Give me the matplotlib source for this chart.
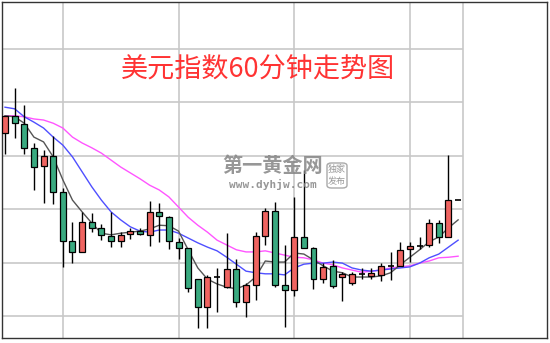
import matplotlib.pyplot as plt
from matplotlib.patches import FancyBboxPatch

# ==================================================
# Data: 60-minute candles (open, high, low, close)
# ==================================================
opens = [97.243, 97.275, 97.260, 97.215, 97.181, 97.200, 97.132, 97.040, 97.020, 97.076,
         97.065, 97.050, 97.040, 97.054, 97.059, 97.052, 97.095, 97.085, 97.039, 97.027,
         96.969, 96.917, 96.973, 96.954, 96.988, 96.926, 96.958, 97.050, 97.097, 96.958,
         96.949, 97.048, 97.027, 96.969, 96.994, 96.973, 96.962, 96.979, 96.975, 96.977,
         96.994, 96.994, 97.025, 97.031, 97.033, 97.074, 97.048, 97.117]
highs = [97.275, 97.327, 97.295, 97.224, 97.211, 97.237, 97.140, 97.076, 97.095, 97.093,
         97.072, 97.095, 97.057, 97.065, 97.065, 97.115, 97.112, 97.087, 97.046, 97.027,
         96.969, 96.977, 96.990, 97.055, 97.007, 96.962, 97.057, 97.102, 97.113, 97.033,
         97.123, 97.173, 97.029, 96.999, 97.005, 96.982, 96.982, 96.990, 96.990, 96.999,
         97.020, 97.039, 97.039, 97.048, 97.082, 97.080, 97.201, 97.117]
lows = [97.203, 97.233, 97.203, 97.136, 97.112, 97.110, 96.992, 96.999, 97.020, 97.057,
        97.042, 97.029, 97.029, 97.044, 97.052, 97.031, 97.039, 97.025, 97.007, 96.945,
        96.878, 96.878, 96.907, 96.952, 96.917, 96.898, 96.930, 97.033, 96.954, 96.879,
        96.937, 97.027, 96.951, 96.962, 96.952, 96.928, 96.958, 96.969, 96.969, 96.966,
        96.967, 96.994, 97.001, 97.025, 97.029, 97.037, 97.048, 97.117]
closes = [97.275, 97.261, 97.215, 97.179, 97.200, 97.132, 97.040, 97.020, 97.076, 97.065,
          97.052, 97.040, 97.052, 97.059, 97.054, 97.095, 97.087, 97.040, 97.027, 96.952,
          96.917, 96.973, 96.973, 96.988, 96.926, 96.958, 97.050, 97.097, 96.958, 96.949,
          97.048, 97.027, 96.969, 96.992, 96.956, 96.979, 96.979, 96.979, 96.981, 96.994,
          96.994, 97.024, 97.031, 97.031, 97.074, 97.048, 97.117, 97.117]

# moving averages as shown on the chart
ma_short = [97.275, 97.273, 97.261, 97.235, 97.226, 97.198, 97.155, 97.117, 97.095, 97.074,
            97.055, 97.052, 97.055, 97.057, 97.059, 97.063, 97.070, 97.069, 97.059, 97.024,
            96.990, 96.969, 96.960, 96.954, 96.951, 96.958, 96.973, 97.003, 97.001, 97.001,
            97.018, 97.016, 97.005, 96.994, 96.984, 96.981, 96.973, 96.973, 96.973, 96.975,
            96.981, 96.996, 97.010, 97.024, 97.039, 97.048, 97.065, 97.080]
ma_mid = [97.291, 97.288, 97.273, 97.263, 97.252, 97.235, 97.220, 97.198, 97.170, 97.142,
          97.117, 97.095, 97.080, 97.067, 97.059, 97.057, 97.061, 97.061, 97.055, 97.046,
          97.037, 97.029, 97.022, 97.010, 96.997, 96.984, 96.981, 96.979, 96.979, 96.977,
          96.990, 96.997, 96.999, 96.999, 97.001, 96.999, 96.990, 96.986, 96.984, 96.986,
          96.988, 96.990, 96.992, 96.999, 97.009, 97.016, 97.029, 97.042]
ma_long = [97.275, 97.275, 97.273, 97.269, 97.267, 97.261, 97.252, 97.235, 97.224, 97.215,
           97.205, 97.192, 97.179, 97.168, 97.157, 97.145, 97.136, 97.123, 97.104, 97.085,
           97.070, 97.057, 97.042, 97.033, 97.024, 97.020, 97.020, 97.022, 97.018, 97.014,
           97.010, 97.009, 97.005, 96.999, 96.996, 96.990, 96.986, 96.982, 96.984, 96.986,
           96.990, 96.992, 96.994, 96.999, 97.003, 97.009, 97.010, 97.012]

price_grid = [96.9, 97.0, 97.1, 97.2, 97.3, 97.4]
time_grid = [6, 18, 30, 42]

# ==================================================
# Figure
# ==================================================
fig = plt.figure(figsize=(5.5, 3.43), dpi=100)
ax = fig.add_axes([2 / 550, 5 / 343, 545 / 550, 336 / 343])
ax.set_xlim(-0.31, 56.22)
ax.set_ylim(96.8588, 97.488)
ax.set_xticks([])
ax.set_yticks([])
for s in ax.spines.values():
    s.set_color('#333333')
    s.set_linewidth(1.0)

plot_right = 47.51
grid_c = '#c8c8c8'
for g in price_grid:
    ax.hlines(g, -0.31, plot_right, color=grid_c, lw=1.2, zorder=0)
for t in time_grid + [plot_right]:
    ax.axvline(t, color=grid_c, lw=1.2, zorder=0)

# ==================================================
# Moving averages
# ==================================================
idx = list(range(len(closes)))
ax.plot(idx, ma_long, color='#ff55ff', lw=1.0, zorder=2)
ax.plot(idx, ma_mid, color='#4f4fff', lw=1.0, zorder=2)
ax.plot(idx, ma_short, color='#555555', lw=1.0, zorder=2)

# ==================================================
# Candles
# ==================================================
w = 0.62
for i in idx:
    o, h, l, c = opens[i], highs[i], lows[i], closes[i]
    ax.vlines(i, l, h, color='black', lw=1.0, zorder=3)
    if o == c:
        ax.hlines(o, i - w / 2, i + w / 2, color='black', lw=1.2, zorder=4)
    else:
        fill = '#ef6461' if c > o else '#3aaa80'
        ax.bar(i, c - o, bottom=o, width=w, color=fill, edgecolor='black',
               linewidth=0.9, zorder=4)

# ==================================================
# Title and watermark
# ==================================================
cjk = ['Noto Sans CJK SC', 'DejaVu Sans']
fig.text(258 / 550, 1 - 70 / 343, '美元指数60分钟走势图', color='#ff3333',
         fontsize=19.5, family=cjk, ha='center', va='center')

wm = '#858585'
fig.text(273 / 550, 1 - 166 / 343, '第一黄金网', color=wm, fontsize=14.5,
         fontweight='bold', family=cjk, ha='center', va='center', alpha=0.85)
fig.text(273 / 550, 1 - 184 / 343, 'www.dyhjw.com', color=wm, fontsize=8,
         fontweight='bold', family='DejaVu Sans Mono', ha='center', va='center',
         alpha=0.85)
fig.text(337 / 550, 1 - 169 / 343, '独家', color=wm, fontsize=6.5,
         family=cjk, ha='center', va='center', alpha=0.85)
fig.text(337 / 550, 1 - 181 / 343, '发布', color=wm, fontsize=6.5,
         family=cjk, ha='center', va='center', alpha=0.85)
box = FancyBboxPatch((327 / 550, 1 - 188 / 343), 20 / 550, 25 / 343,
                     boxstyle='round,pad=0,rounding_size=0.008',
                     transform=fig.transFigure, fill=False,
                     edgecolor='#9a9a9a', lw=1.0, alpha=0.85)
fig.patches.append(box)

fig.savefig('out.png', dpi=100)
